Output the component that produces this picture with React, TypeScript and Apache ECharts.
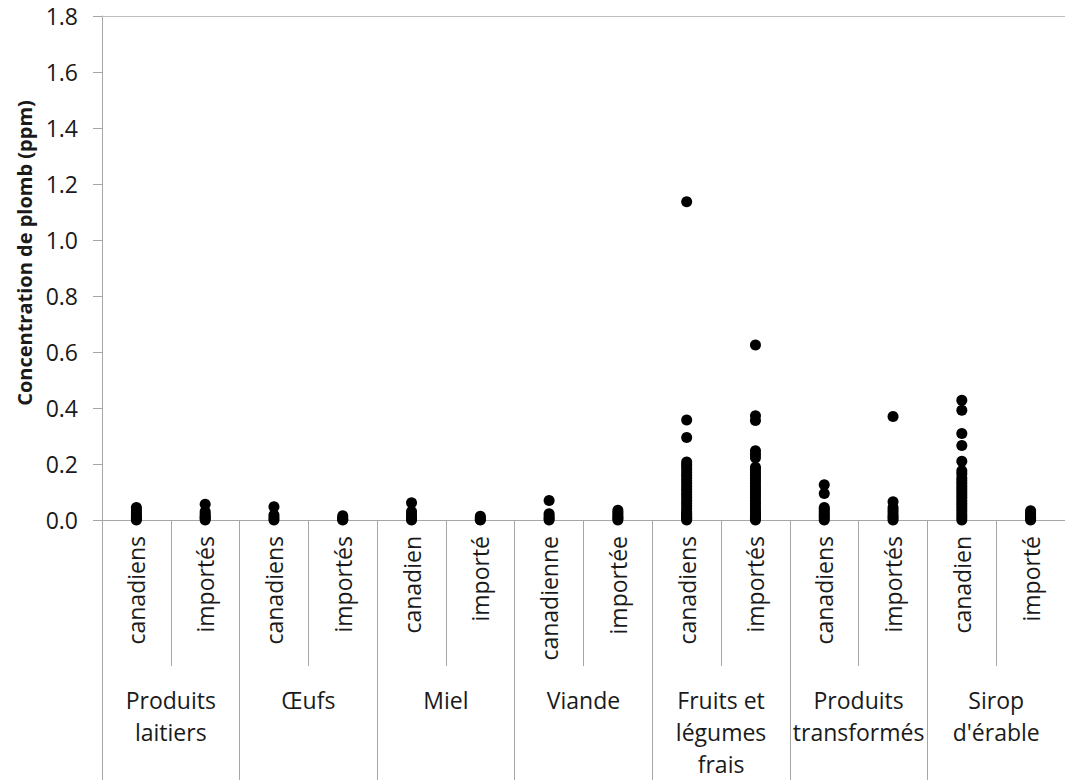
import React, { useEffect, useRef } from "react";
import * as echarts from "echarts";

// Sub-categories (origin) along the x axis, in order
const subCategories = [
  "canadiens", "importés",
  "canadiens", "importés",
  "canadien", "importé",
  "canadienne", "importée",
  "canadiens", "importés",
  "canadiens", "importés",
  "canadien", "importé",
];

// Product groups (two sub-categories each)
const groups = [
  "Produits\nlaitiers",
  "Œufs",
  "Miel",
  "Viande",
  "Fruits et\nlégumes\nfrais",
  "Produits\ntransformés",
  "Sirop\nd'érable",
];

const yAxisTitle = "Concentration de plomb (ppm)";
const yMin = 0;
const yMax = 1.8;
const yStep = 0.2;

// Lead concentrations (ppm), one list per column
const laitiersCanadiens = [0.045, 0.036, 0.028, 0.02, 0.014, 0.008, 0.004, 0.0];
const laitiersImportes = [0.056, 0.03, 0.022, 0.015, 0.01, 0.005, 0.0];
const oeufsCanadiens = [0.047, 0.018, 0.008, 0.0];
const oeufsImportes = [0.015, 0.008, 0.003, 0.0];
const mielCanadien = [0.062, 0.03, 0.02, 0.012, 0.005, 0.0];
const mielImporte = [0.013, 0.007, 0.002, 0.0];
const viandeCanadienne = [0.07, 0.022, 0.014, 0.006, 0.0];
const viandeImportee = [0.035, 0.027, 0.02, 0.012, 0.006, 0.0];
const fruitsCanadiens = [
  1.137, 0.357, 0.295, 0.207, 0.198, 0.19, 0.18, 0.17, 0.16, 0.15, 0.14, 0.13,
  0.12, 0.11, 0.1, 0.09, 0.08, 0.07, 0.06, 0.05, 0.04, 0.03, 0.025, 0.02, 0.015,
  0.01, 0.005, 0.0,
];
const fruitsImportes = [
  0.625, 0.372, 0.355, 0.247, 0.235, 0.222, 0.188, 0.18, 0.17, 0.16, 0.15, 0.14,
  0.13, 0.12, 0.11, 0.1, 0.09, 0.08, 0.07, 0.06, 0.05, 0.04, 0.03, 0.025, 0.02,
  0.015, 0.01, 0.005, 0.0,
];
const transformesCanadiens = [0.126, 0.095, 0.045, 0.038, 0.03, 0.022, 0.015, 0.008, 0.0];
const transformesImportes = [0.37, 0.065, 0.045, 0.035, 0.025, 0.015, 0.008, 0.0];
const siropCanadien = [
  0.428, 0.392, 0.309, 0.266, 0.21, 0.176, 0.165, 0.15, 0.14, 0.13, 0.12, 0.11,
  0.1, 0.09, 0.08, 0.07, 0.06, 0.05, 0.04, 0.03, 0.02, 0.01, 0.0,
];
const siropImporte = [0.033, 0.025, 0.018, 0.01, 0.005, 0.0];

const columns = [
  laitiersCanadiens, laitiersImportes,
  oeufsCanadiens, oeufsImportes,
  mielCanadien, mielImporte,
  viandeCanadienne, viandeImportee,
  fruitsCanadiens, fruitsImportes,
  transformesCanadiens, transformesImportes,
  siropCanadien, siropImporte,
];

const FONT = "'Open Sans', 'Noto Sans', sans-serif";
const TEXT_COLOR = "#1a1a1a";
const AXIS_COLOR = "#a6a6a6";

export default function App() {
  const ref = useRef<HTMLDivElement>(null);

  useEffect(() => {
    if (!ref.current) return;
    const chart = echarts.init(ref.current, undefined, { renderer: "svg" });
    const points = columns.flatMap((vals, i) => vals.map((v) => [i, v]));

    chart.setOption({
      animation: false,
      backgroundColor: "#ffffff",
      grid: { left: 102, top: 16, width: 973, height: 505, containLabel: false },
      xAxis: [
        {
          type: "category",
          position: "bottom",
          data: subCategories,
          boundaryGap: true,
          axisLine: { show: true, lineStyle: { color: AXIS_COLOR, width: 1 } },
          axisTick: {
            show: true,
            interval: 0,
            alignWithLabel: false,
            length: 146,
            lineStyle: { color: AXIS_COLOR },
          },
          axisLabel: {
            interval: 0,
            rotate: 90,
            margin: 16,
            fontFamily: FONT,
            fontSize: 23,
            color: TEXT_COLOR,
          },
          splitLine: { show: false },
        },
        {
          type: "category",
          position: "bottom",
          data: groups,
          boundaryGap: true,
          axisLine: { show: false },
          axisTick: {
            show: true,
            interval: 0,
            alignWithLabel: false,
            length: 270,
            lineStyle: { color: AXIS_COLOR },
          },
          axisLabel: {
            interval: 0,
            margin: 164,
            fontFamily: FONT,
            fontSize: 23,
            lineHeight: 32,
            color: TEXT_COLOR,
            align: "center",
          },
          splitLine: { show: false },
        },
        {
          type: "category",
          position: "top",
          data: subCategories,
          axisLine: { show: true, lineStyle: { color: "#bfbfbf", width: 1 } },
          axisTick: { show: false },
          axisLabel: { show: false },
          splitLine: { show: false },
        },
      ],
      yAxis: {
        type: "value",
        min: yMin,
        max: yMax,
        interval: yStep,
        name: yAxisTitle,
        nameLocation: "middle",
        nameGap: 68,
        nameRotate: 90,
        nameTextStyle: {
          fontFamily: FONT,
          fontSize: 20,
          fontWeight: "bold",
          color: TEXT_COLOR,
          padding: [0, 0, 0, 30],
        },
        axisLine: { show: true, lineStyle: { color: AXIS_COLOR, width: 1 } },
        axisTick: { show: true, length: 9, lineStyle: { color: AXIS_COLOR } },
        axisLabel: {
          margin: 24,
          fontFamily: FONT,
          fontSize: 23,
          color: TEXT_COLOR,
          formatter: (v: number) => v.toFixed(1),
        },
        splitLine: { show: false },
      },
      series: [
        {
          type: "scatter",
          xAxisIndex: 0,
          yAxisIndex: 0,
          data: points,
          symbol: "circle",
          symbolSize: 11,
          itemStyle: { color: "#000000", opacity: 1 },
          clip: false,
        },
      ],
    });

    return () => chart.dispose();
  }, []);

  return (
    <div
      ref={ref}
      style={{ position: "fixed", left: 0, top: 0, width: 1065, height: 780, background: "#fff" }}
    />
  );
}
